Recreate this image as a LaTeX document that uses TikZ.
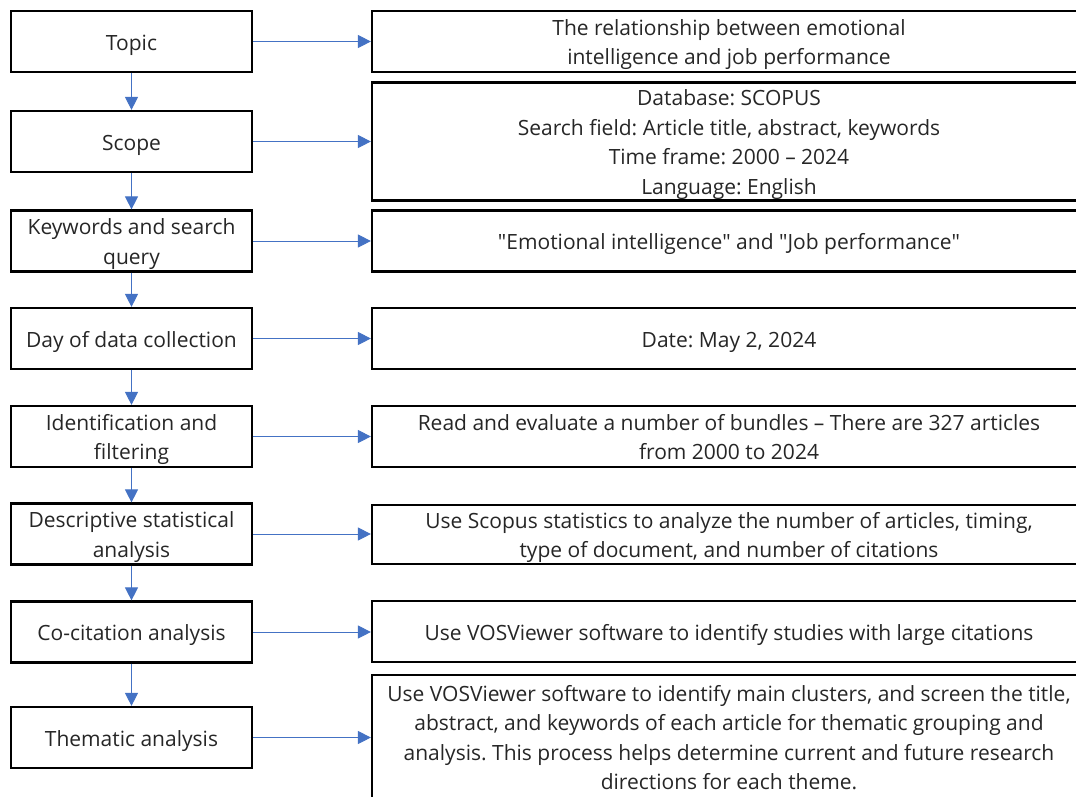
\documentclass[tikz,border=0pt]{standalone}
\usepackage{fontspec}
\setmainfont{Open Sans}
\usepackage{tikz}
\usetikzlibrary{arrows.meta}

\definecolor{flowblue}{RGB}{68,114,196}
\newcommand\boxstrut{\rule[-6.25pt]{0pt}{29.5pt}}

\tikzset{
  stepbox/.style={draw=black, line width=2.2pt, rectangle, inner sep=0pt,
    align=center, text=black!85,
    font=\fontsize{21}{29.5}\selectfont\frenchspacing,
    execute at begin node=\boxstrut, execute at end node=\boxstrut},
  leftbox/.style={stepbox, minimum width=241pt, minimum height=61pt},
  rightbox/.style={stepbox, minimum width=714pt, minimum height=61pt},
  flow/.style={flowblue, line width=1pt, -{Triangle[length=13pt,width=13pt]}}
}

\begin{document}
\begin{tikzpicture}[x=1pt,y=-1pt]
          \useasboundingbox (0,0) rectangle (1076,796);
          \clip (0,0) rectangle (1076,796);

          % Steps
          \node[leftbox] (topic) at (131.5,41.5) {Topic};
          \node[leftbox] (scope) at (131.5,141.5) {Scope};
          \node[leftbox] (keys) at (131.5,241) {\boxstrut Keywords and search\\query};
          \node[leftbox] (day) at (131.5,338.5) {Day of data collection};
          \node[leftbox] (ident) at (131.5,436.5) {\boxstrut Identification and\\filtering};
          \node[leftbox] (desc) at (131.5,534) {\boxstrut Descriptive statistical\\analysis};
          \node[leftbox] (cocit) at (131.5,632) {Co-citation analysis};
          \node[leftbox] (theme) at (131.5,737.5) {Thematic analysis};

          % Details
          \node[rightbox] (rtopic) at (729,41.5)
            {\boxstrut The relationship between emotional\\intelligence and job performance};
          \node[rightbox, minimum height=115pt] (rscope) at (729,141.5)
            {\boxstrut Database: SCOPUS\\Search field: Article title, abstract, keywords\\
             Time frame: 2000 – 2024\\Language: English};
          \node[rightbox] (rkeys) at (729,241)
            {\textquotedbl Emotional intelligence\textquotedbl\ and
             \textquotedbl Job performance\textquotedbl};
          \node[rightbox] (rday) at (729,338.5) {Date: May 2, 2024};
          \node[rightbox] (rident) at (729,436.5)
            {\boxstrut Read and evaluate a number of bundles – There are 327 articles\\
             from 2000 to 2024};
          \node[rightbox, minimum height=59pt] (rdesc) at (729,534.5)
            {\boxstrut Use Scopus statistics to analyze the number of articles, timing,\\
             type of document, and number of citations};
          \node[rightbox] (rcocit) at (729,631.5)
            {Use VOSViewer software to identify studies with large citations};
          \node[rightbox, minimum height=124pt] (rtheme) at (729,737)
            {\boxstrut Use VOSViewer software to identify main clusters, and screen the title,\\
             abstract, and keywords of each article for thematic grouping and\\
             analysis. This process helps determine current and future research\\
             directions for each theme.};

          % Arrows
          \foreach \a/\b in {topic/scope, scope/keys, keys/day, day/ident,
            ident/desc, desc/cocit, cocit/theme}
            \draw[flow] (\a.south) -- (\b.north);
          \foreach \a/\b in {topic/rtopic, scope/rscope, keys/rkeys, day/rday,
            ident/rident, desc/rdesc, cocit/rcocit, theme/rtheme}
            \draw[flow] (\a.east) -- (\a.east -| \b.west);
        \end{tikzpicture}
\end{document}
